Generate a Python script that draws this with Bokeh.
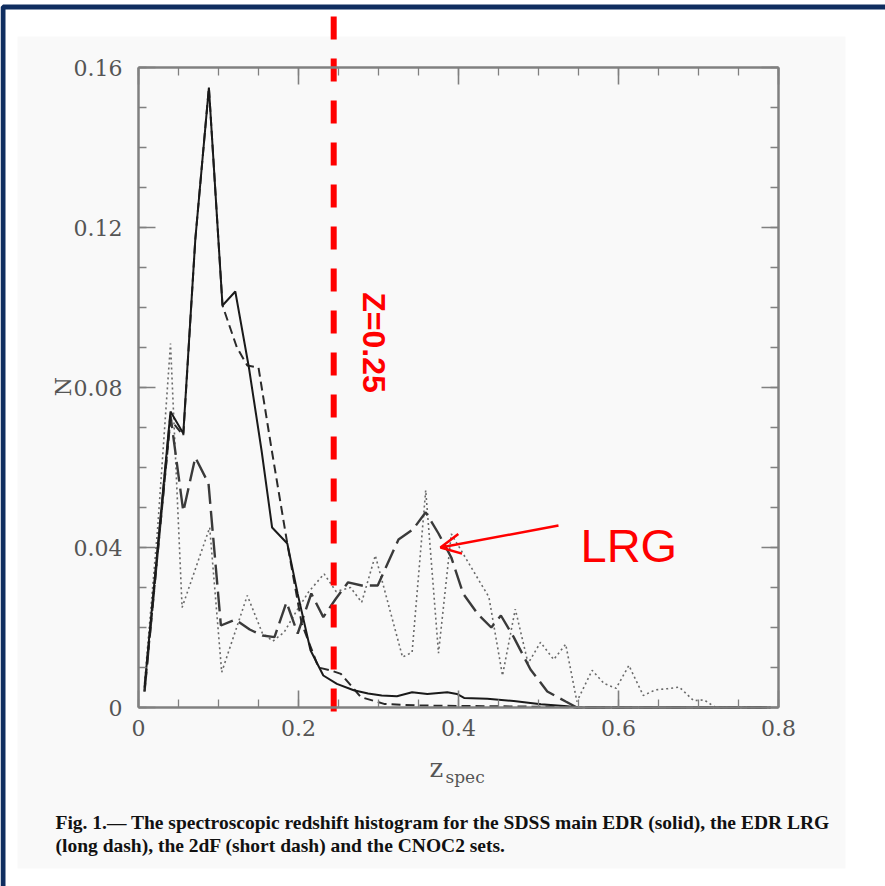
import numpy as np
from bokeh.plotting import figure
from bokeh.models import LinearAxis, FixedTicker, Range1d, Arrow, OpenHead
from bokeh.core.properties import value
from bokeh.embed import file_html
from bokeh.resources import INLINE

# ---------------- data ----------------
# SDSS main EDR (solid)
main_z = [0.0075, 0.040, 0.056, 0.071, 0.088, 0.105, 0.121, 0.138, 0.154, 0.167, 0.186, 0.199,
          0.215, 0.231, 0.248, 0.269, 0.287, 0.304, 0.323, 0.342, 0.361, 0.386, 0.398, 0.407,
          0.436, 0.469, 0.503, 0.536, 0.548, 0.790]
main_n = [0.005, 0.074, 0.0685, 0.117, 0.155, 0.1005, 0.104, 0.085, 0.064, 0.045, 0.041, 0.0284,
          0.0143, 0.008, 0.0059, 0.0043, 0.0035, 0.003, 0.0028, 0.0038, 0.0034, 0.0038, 0.0034, 0.0024,
          0.0022, 0.0016, 0.0008, 0.0003, 0.0, 0.0]

# 2dF (short dash)
tdf_z = [0.0075, 0.040, 0.056, 0.071, 0.088, 0.105, 0.123, 0.136, 0.150, 0.166, 0.186, 0.204,
         0.225, 0.240, 0.253, 0.278, 0.307, 0.350, 0.400, 0.450, 0.500, 0.550, 0.790]
tdf_n = [0.004, 0.072, 0.068, 0.117, 0.155, 0.1005, 0.090, 0.0855, 0.085, 0.065, 0.041, 0.021,
         0.010, 0.0093, 0.0084, 0.0026, 0.0009, 0.0005, 0.0004, 0.0003, 0.0002, 0.0, 0.0]

# EDR LRG (long dash)
lrg_z = [0.0075, 0.040, 0.056, 0.071, 0.0875, 0.103, 0.121, 0.139, 0.155, 0.170, 0.185, 0.199,
         0.216, 0.231, 0.246, 0.262, 0.279, 0.299, 0.325, 0.343, 0.359, 0.375, 0.391, 0.406,
         0.424, 0.441, 0.453, 0.469, 0.490, 0.511, 0.534, 0.548, 0.790]
lrg_n = [0.004, 0.073, 0.049, 0.0625, 0.056, 0.0205, 0.022, 0.0195, 0.018, 0.0176, 0.0263, 0.0185,
         0.0285, 0.0226, 0.027, 0.0313, 0.0305, 0.0305, 0.042, 0.0445, 0.0488, 0.0435, 0.0375, 0.0284,
         0.0234, 0.020, 0.023, 0.0176, 0.0095, 0.004, 0.0015, 0.0, 0.0]

# CNOC2 (dotted)
cnoc_z = [0.0075, 0.024, 0.040, 0.0545, 0.089, 0.104, 0.136, 0.155, 0.168, 0.182, 0.198, 0.213,
          0.232, 0.247, 0.265, 0.279, 0.296, 0.330, 0.342, 0.359, 0.375, 0.391, 0.438, 0.455,
          0.471, 0.487, 0.5025, 0.519, 0.534, 0.548, 0.567, 0.582, 0.597, 0.613, 0.631, 0.646,
          0.661, 0.676, 0.694, 0.707, 0.720, 0.790]
cnoc_n = [0.006, 0.045, 0.091, 0.025, 0.045, 0.0088, 0.028, 0.0185, 0.0166, 0.0188, 0.0243, 0.029,
          0.0334, 0.029, 0.030, 0.0263, 0.038, 0.0126, 0.0138, 0.0543, 0.0136, 0.0434, 0.0276, 0.008,
          0.0246, 0.011, 0.0163, 0.012, 0.0158, 0.0015, 0.0093, 0.006, 0.0048, 0.0105, 0.003, 0.0044,
          0.0047, 0.0051, 0.0017, 0.0019, 0.0002, 0.0]

x_ticks = [0.0, 0.2, 0.4, 0.6, 0.8]
x_tick_labels = ["0", "0.2", "0.4", "0.6", "0.8"]
x_minor = [round(0.05 * i, 2) for i in range(17)]
y_ticks = [0.0, 0.04, 0.08, 0.12, 0.16]
y_tick_labels = ["0", "0.04", "0.08", "0.12", "0.16"]
y_minor = [round(0.01 * i, 2) for i in range(17)]

z_cut = 0.244          # where the red line is drawn
z_cut_label = "Z=0.25"
caption = ["Fig.  1.\u2014 The spectroscopic redshift histogram for the SDSS main EDR (solid), the EDR LRG",
           "(long dash), the 2dF (short dash) and the CNOC2 sets."]

# ---------------- layout ----------------
W, H = 885, 886
PX_X0, PX_X1 = 138, 778      # z = 0 .. 0.8
PX_Y0, PX_Y1 = 707, 67       # N = 0 .. 0.16
XMAX, YMAX = 0.8, 0.16
SX = (PX_X1 - PX_X0) / XMAX
SY = (PX_Y0 - PX_Y1) / YMAX


def dx(px):
    return (px - PX_X0) / SX


def dy(py):
    return (PX_Y0 - py) / SY


p = figure(width=W, height=H, x_range=Range1d(dx(0), dx(W)), y_range=Range1d(dy(H), dy(0)),
           x_axis_type=None, y_axis_type=None, toolbar_location=None,
           output_backend="svg", min_border=0)
p.outline_line_color = None
p.background_fill_color = "white"
p.border_fill_color = "white"

# light gray page of the scanned figure
p.quad(left=dx(17), right=dx(845), top=dy(36), bottom=dy(868),
       fill_color="#f9f9f9", line_color=None)
# dark blue slide border
p.quad(left=dx(2.5), right=dx(W + 40), top=dy(6.5), bottom=dy(H + 40),
       fill_color=None, line_color="#0f2d5f", line_width=5)

AX_COLOR = "#808080"
LBL_COLOR = "#555555"


def make_axis(fixed, bounds, ticks, minor, labels, show_labels, standoff):
    ax = LinearAxis(fixed_location=fixed, bounds=bounds,
                    ticker=FixedTicker(ticks=ticks, minor_ticks=minor))
    ax.major_label_overrides = {t: (l if show_labels else "") for t, l in zip(ticks, labels)}
    ax.axis_line_color = AX_COLOR
    ax.axis_line_width = 2.5
    ax.major_tick_line_color = AX_COLOR
    ax.major_tick_line_width = 1.6
    ax.minor_tick_line_color = AX_COLOR
    ax.minor_tick_line_width = 1.3
    ax.major_tick_in = 17
    ax.major_tick_out = 0
    ax.minor_tick_in = 8
    ax.minor_tick_out = 0
    ax.major_label_text_font = "DejaVu Serif"
    ax.major_label_text_font_size = "22px"
    ax.major_label_text_color = LBL_COLOR
    ax.major_label_standoff = standoff
    return ax


p.add_layout(make_axis(0.0, (0.0, XMAX), x_ticks, x_minor, x_tick_labels, True, 12), "below")
p.add_layout(make_axis(YMAX, (0.0, XMAX), x_ticks, x_minor, x_tick_labels, False, 10), "above")
p.add_layout(make_axis(0.0, (0.0, YMAX), y_ticks, y_minor, y_tick_labels, True, 16), "left")
p.add_layout(make_axis(XMAX, (0.0, YMAX), y_ticks, y_minor, y_tick_labels, False, 16), "right")

# curves
p.line(cnoc_z, cnoc_n, line_color="#6a6a6a", line_width=1.6, line_dash="2 3")
p.line(lrg_z, lrg_n, line_color="#3a3a3a", line_width=2.4, line_dash="20 7")
p.line(tdf_z, tdf_n, line_color="#2a2a2a", line_width=2.0, line_dash="9 5")
p.line(main_z, main_n, line_color="#1a1a1a", line_width=2.0)

# axis titles
p.text(x=[dx(63)], y=[dy(386)], text=["N"], angle=np.pi / 2,
       text_font=value("DejaVu Serif"), text_font_size="22px", text_color=LBL_COLOR,
       text_align="center", text_baseline="middle")
p.text(x=[dx(429)], y=[dy(767)], text=["z"], text_font=value("DejaVu Serif"),
       text_font_size="26px", text_color=LBL_COLOR, text_align="left", text_baseline="alphabetic")
p.text(x=[dx(445)], y=[dy(776)], text=["spec"], text_font=value("DejaVu Serif"),
       text_font_size="17px", text_color=LBL_COLOR, text_align="left", text_baseline="alphabetic")

# caption
p.text(x=[dx(55), dx(55)], y=[dy(822), dy(845)], text=caption,
       text_font=value("Liberation Serif"), text_font_style="bold", text_font_size="19.5px",
       text_color="#111111", text_align="left", text_baseline="middle")

# red annotations
p.line([z_cut, z_cut], [dy(16), dy(728)], line_color="#ff0000", line_width=6, line_dash="23 19")
p.text(x=[dx(373.5)], y=[dy(342)], text=[z_cut_label], angle=-np.pi / 2,
       text_font=value("Liberation Sans"), text_font_style="bold", text_font_size="32px",
       text_color="#ff0000", text_align="center", text_baseline="middle")
p.text(x=[dx(580)], y=[dy(545)], text=["LRG"], text_font=value("Liberation Sans"),
       text_font_size="47px", text_color="#ff0000", text_align="left", text_baseline="alphabetic")
p.add_layout(Arrow(end=OpenHead(size=20, line_color="#ff0000", line_width=2.5),
                   x_start=dx(558), y_start=dy(525), x_end=dx(440), y_end=dy(547),
                   line_color="#ff0000", line_width=2.5))

open("out.html", "w").write(file_html(p, INLINE))
